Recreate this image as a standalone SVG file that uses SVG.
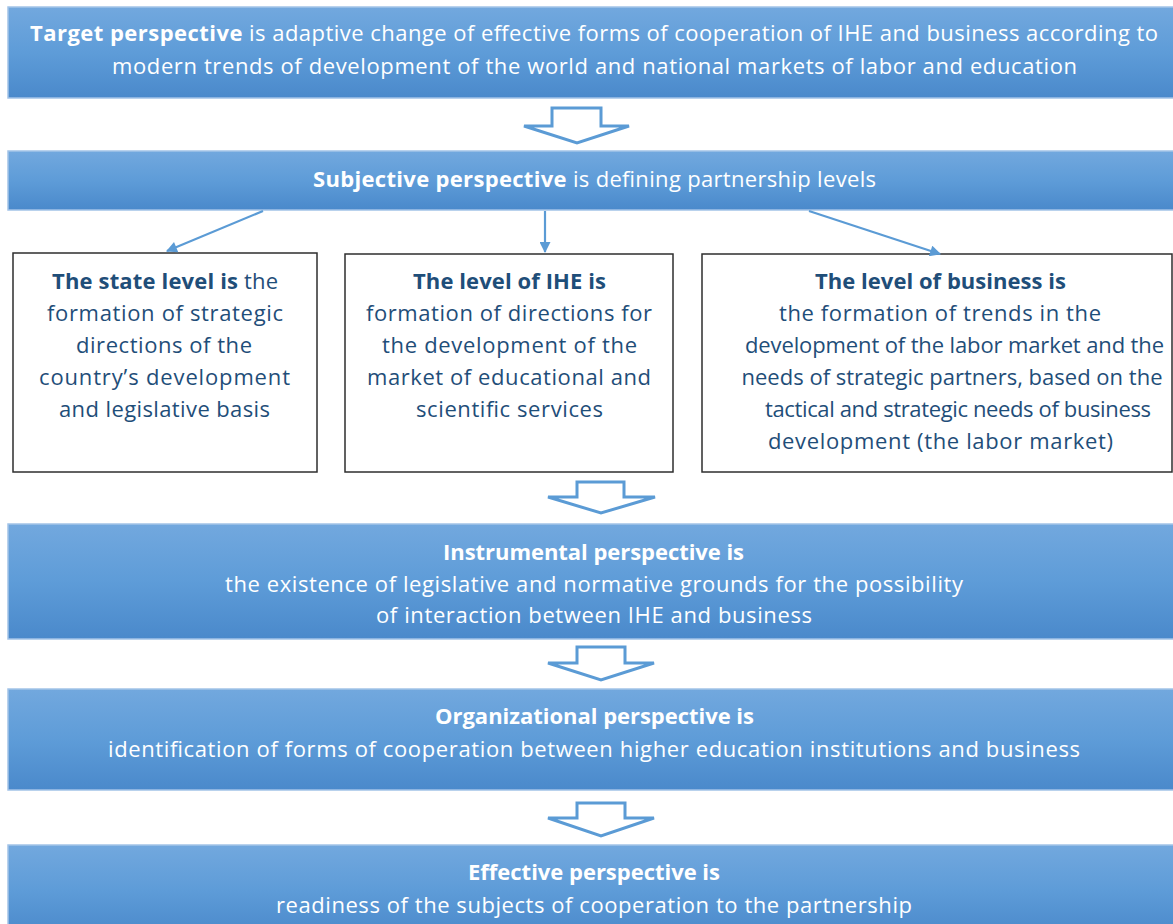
<svg xmlns="http://www.w3.org/2000/svg" width="1173" height="924" viewBox="0 0 1173 924">
<defs>
<linearGradient id="bg" x1="0" y1="0" x2="0" y2="1">
<stop offset="0" stop-color="#72a8de"/>
<stop offset="0.5" stop-color="#5e9cd8"/>
<stop offset="1" stop-color="#4a89cb"/>
</linearGradient>
<marker id="ah" viewBox="0 0 10 10" refX="9" refY="5" markerWidth="5.5" markerHeight="5" orient="auto" markerUnits="strokeWidth">
<path d="M0,0 L10,5 L0,10 z" fill="#5b9bd5"/>
</marker>
<style>
.bb{fill:url(#bg);stroke:#a3c3e8;stroke-width:1.5}
.wb{fill:#ffffff;stroke:#2e2e2e;stroke-width:1.5}
.wt{font-family:"Open Sans","Noto Sans",sans-serif;font-size:22px;fill:#ffffff;text-anchor:middle}
.dt{font-family:"Open Sans","Noto Sans",sans-serif;font-size:22px;fill:#1f4e79;text-anchor:middle}
.b{font-weight:bold}
.con{stroke:#5b9bd5;stroke-width:2.2;fill:none;marker-end:url(#ah)}
.ha{fill:#ffffff;stroke:#5b9bd5;stroke-width:3;stroke-linejoin:miter}
</style>
</defs>
<g id="target">
<rect class="bb" x="8" y="7" width="1180" height="91"/>
<text class="wt" x="594" y="41" textLength="1128"><tspan class="b">Target perspective</tspan> is adaptive change of effective forms of cooperation of IHE and business according to</text>
<text class="wt" x="594.5" y="74" textLength="965">modern trends of development of the world and national markets of labor and education</text>
</g>
<g id="subjective">
<rect class="bb" x="8" y="151" width="1180" height="59"/>
<text class="wt" x="594.5" y="187" textLength="563"><tspan class="b">Subjective perspective</tspan> is defining partnership levels</text>
</g>
<g id="state">
<rect class="wb" x="13" y="253" width="304" height="219"/>
<text class="dt" x="165" y="289" textLength="226"><tspan class="b">The state level is</tspan> the</text>
<text class="dt" x="165" y="321" textLength="236">formation of strategic</text>
<text class="dt" x="164" y="353" textLength="176">directions of the</text>
<text class="dt" x="164.5" y="385" textLength="251">country’s development</text>
<text class="dt" x="164.5" y="417" textLength="211">and legislative basis</text>
</g>
<g id="ihe">
<rect class="wb" x="345" y="254" width="328" height="218"/>
<text class="dt b" x="509.5" y="289" textLength="193">The level of IHE is</text>
<text class="dt" x="509" y="321" textLength="286">formation of directions for</text>
<text class="dt" x="509.5" y="353" textLength="255">the development of the</text>
<text class="dt" x="509" y="385" textLength="284">market of educational and</text>
<text class="dt" x="509.5" y="417" textLength="187">scientific services</text>
</g>
<g id="business">
<rect class="wb" x="702" y="254" width="470" height="218"/>
<text class="dt b" x="940.5" y="289" textLength="251">The level of business is</text>
<text class="dt" x="940" y="321" textLength="322">the formation of trends in the</text>
<text class="dt" x="954.5" y="353" textLength="419">development of the labor market and the</text>
<text class="dt" x="952" y="385" textLength="421">needs of strategic partners, based on the</text>
<text class="dt" x="958" y="417" textLength="386">tactical and strategic needs of business</text>
<text class="dt" x="940.5" y="449" textLength="345">development (the labor market)</text>
</g>
<g id="instrumental">
<rect class="bb" x="8" y="524" width="1180" height="115"/>
<text class="wt b" x="593.5" y="560" textLength="301">Instrumental perspective is</text>
<text class="wt" x="594" y="592" textLength="738">the existence of legislative and normative grounds for the possibility</text>
<text class="wt" x="594" y="623" textLength="436">of interaction between IHE and business</text>
</g>
<g id="organizational">
<rect class="bb" x="8" y="689" width="1180" height="101"/>
<text class="wt b" x="594.5" y="724" textLength="319">Organizational perspective is</text>
<text class="wt" x="594" y="757" textLength="972">identification of forms of cooperation between higher education institutions and business</text>
</g>
<g id="effective">
<rect class="bb" x="8" y="845" width="1180" height="90"/>
<text class="wt b" x="594" y="880" textLength="252">Effective perspective is</text>
<text class="wt" x="594" y="913" textLength="636">readiness of the subjects of cooperation to the partnership</text>
</g>
<g id="connectors">
<polygon class="ha" points="552,108 601,108 601,126 629,126 577,143 524,126 552,126"/>
<polygon class="ha" points="577,482 624,482 624,497 655,497 601,513 548,497 577,497"/>
<polygon class="ha" points="577,647 625,647 625,663 654,663 601,680 548,663 577,663"/>
<polygon class="ha" points="577,803 625,803 625,818 654,818 601,836 548,818 577,818"/>
<line class="con" x1="263" y1="211" x2="167" y2="251"/>
<line class="con" x1="545" y1="211" x2="545" y2="252"/>
<line class="con" x1="809" y1="211" x2="940" y2="254"/>
</g>
</svg>
